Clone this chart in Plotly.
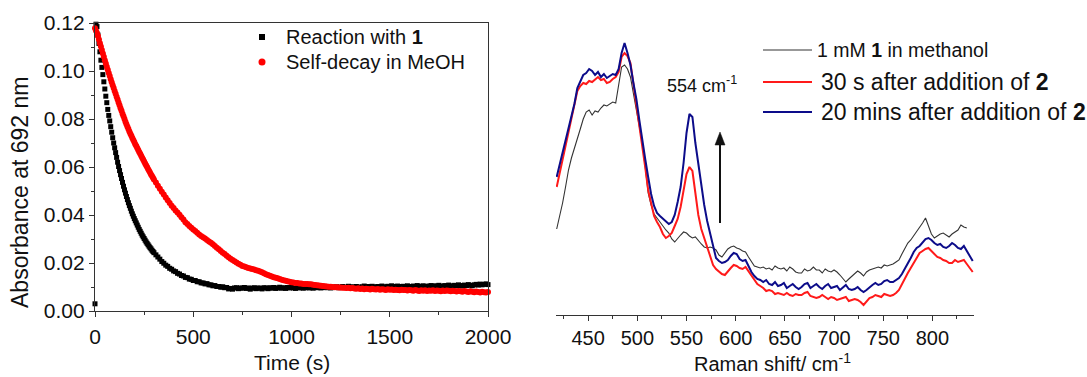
import plotly.graph_objects as go

# ---------------- Kinetic traces (absorbance at 692 nm vs time) ----------------
time_s = [
    0, 5, 10, 15, 20, 25, 30, 35, 40, 45, 50, 55, 60, 65, 70, 75, 80, 85, 90, 95,
    100, 105, 110, 115, 120, 125, 130, 135, 140, 145, 150, 155, 160, 165, 170, 175, 180, 185, 190, 195,
    200, 205, 210, 215, 220, 225, 230, 235, 240, 245, 250, 255, 260, 265, 270, 275, 280, 285, 290, 295,
    300, 310, 320, 330, 340, 350, 360, 370, 380, 390, 400, 410, 420, 430, 440, 450, 460, 470, 480, 490,
    500, 510, 520, 530, 540, 550, 560, 570, 580, 590, 600, 610, 620, 630, 640, 650, 660, 670, 680, 690,
    700, 710, 720, 730, 740, 750, 760, 770, 780, 790, 800, 810, 820, 830, 840, 850, 860, 870, 880, 890,
    900, 910, 920, 930, 940, 950, 960, 970, 980, 990, 1000, 1010, 1020, 1030, 1040, 1050, 1060, 1070, 1080, 1090,
    1100, 1110, 1120, 1130, 1140, 1150, 1160, 1170, 1180, 1190, 1200, 1210, 1220, 1230, 1240, 1250, 1260, 1270, 1280, 1290,
    1300, 1310, 1320, 1330, 1340, 1350, 1360, 1370, 1380, 1390, 1400, 1410, 1420, 1430, 1440, 1450, 1460, 1470, 1480, 1490,
    1500, 1510, 1520, 1530, 1540, 1550, 1560, 1570, 1580, 1590, 1600, 1610, 1620, 1630, 1640, 1650, 1660, 1670, 1680, 1690,
    1700, 1710, 1720, 1730, 1740, 1750, 1760, 1770, 1780, 1790, 1800, 1810, 1820, 1830, 1840, 1850, 1860, 1870, 1880, 1890,
    1900, 1910, 1920, 1930, 1940, 1950, 1960, 1970, 1980, 1990, 2000,
]

abs_reaction = [
    0.0030, 0.1195, 0.1185, 0.1150, 0.1115, 0.1080, 0.1045, 0.1015, 0.0985, 0.0955,
    0.0925, 0.0895, 0.0868, 0.0840, 0.0815, 0.0792, 0.0768, 0.0745, 0.0722, 0.0700,
    0.0680, 0.0660, 0.0640, 0.0620, 0.0602, 0.0585, 0.0568, 0.0552, 0.0536, 0.0520,
    0.0505, 0.0491, 0.0477, 0.0464, 0.0451, 0.0439, 0.0428, 0.0416, 0.0405, 0.0395,
    0.0385, 0.0376, 0.0367, 0.0358, 0.0349, 0.0340, 0.0332, 0.0324, 0.0316, 0.0309,
    0.0302, 0.0295, 0.0288, 0.0282, 0.0276, 0.0270, 0.0264, 0.0259, 0.0253, 0.0248,
    0.0243, 0.0234, 0.0225, 0.0216, 0.0206, 0.0199, 0.0191, 0.0186, 0.0178, 0.0174,
    0.0167, 0.0164, 0.0157, 0.0154, 0.0148, 0.0146, 0.0140, 0.0139, 0.0133, 0.0132,
    0.0127, 0.0127, 0.0122, 0.0122, 0.0117, 0.0117, 0.0113, 0.0114, 0.0109, 0.0109,
    0.0105, 0.0106, 0.0102, 0.0102, 0.0099, 0.0101, 0.0097, 0.0098, 0.0092, 0.0094,
    0.0091, 0.0096, 0.0097, 0.0093, 0.0096, 0.0095, 0.0098, 0.0094, 0.0096, 0.0091,
    0.0095, 0.0097, 0.0093, 0.0096, 0.0095, 0.0092, 0.0097, 0.0096, 0.0093, 0.0097,
    0.0095, 0.0098, 0.0094, 0.0096, 0.0099, 0.0095, 0.0097, 0.0094, 0.0098, 0.0096,
    0.0099, 0.0096, 0.0094, 0.0098, 0.0096, 0.0099, 0.0095, 0.0097, 0.0100, 0.0096,
    0.0098, 0.0095, 0.0099, 0.0097, 0.0100, 0.0096, 0.0098, 0.0101, 0.0097, 0.0099,
    0.0096, 0.0100, 0.0098, 0.0101, 0.0097, 0.0099, 0.0102, 0.0098, 0.0100, 0.0103,
    0.0099, 0.0101, 0.0098, 0.0102, 0.0100, 0.0097, 0.0101, 0.0104, 0.0100, 0.0102,
    0.0099, 0.0103, 0.0101, 0.0098, 0.0102, 0.0100, 0.0104, 0.0101, 0.0099, 0.0103,
    0.0101, 0.0105, 0.0102, 0.0100, 0.0104, 0.0102, 0.0099, 0.0103, 0.0101, 0.0105,
    0.0102, 0.0100, 0.0104, 0.0102, 0.0106, 0.0103, 0.0101, 0.0105, 0.0103, 0.0100,
    0.0104, 0.0106, 0.0102, 0.0105, 0.0103, 0.0107, 0.0104, 0.0102, 0.0106, 0.0104,
    0.0108, 0.0105, 0.0103, 0.0107, 0.0105, 0.0109, 0.0106, 0.0104, 0.0108, 0.0106,
    0.0110, 0.0107, 0.0105, 0.0109, 0.0111, 0.0108, 0.0112, 0.0109, 0.0111, 0.0113,
    0.0110,
]

abs_selfdecay = [
    0.1178, 0.1168, 0.1158, 0.1146, 0.1131, 0.1116, 0.1102, 0.1088, 0.1073, 0.1059,
    0.1045, 0.1031, 0.1018, 0.1005, 0.0992, 0.0979, 0.0966, 0.0953, 0.0941, 0.0929,
    0.0917, 0.0905, 0.0893, 0.0881, 0.0869, 0.0857, 0.0845, 0.0834, 0.0822, 0.0811,
    0.0800, 0.0789, 0.0778, 0.0768, 0.0758, 0.0748, 0.0739, 0.0730, 0.0721, 0.0712,
    0.0704, 0.0695, 0.0687, 0.0679, 0.0671, 0.0663, 0.0655, 0.0647, 0.0639, 0.0631,
    0.0623, 0.0615, 0.0607, 0.0600, 0.0592, 0.0584, 0.0577, 0.0569, 0.0562, 0.0555,
    0.0548, 0.0535, 0.0522, 0.0509, 0.0497, 0.0485, 0.0473, 0.0461, 0.0450, 0.0439,
    0.0429, 0.0419, 0.0410, 0.0401, 0.0391, 0.0381, 0.0370, 0.0362, 0.0354, 0.0347,
    0.0340, 0.0333, 0.0326, 0.0319, 0.0313, 0.0307, 0.0302, 0.0296, 0.0290, 0.0284,
    0.0278, 0.0271, 0.0264, 0.0257, 0.0250, 0.0243, 0.0237, 0.0230, 0.0224, 0.0218,
    0.0213, 0.0207, 0.0202, 0.0197, 0.0193, 0.0188, 0.0185, 0.0182, 0.0179, 0.0177,
    0.0175, 0.0173, 0.0170, 0.0168, 0.0165, 0.0161, 0.0157, 0.0153, 0.0150, 0.0147,
    0.0144, 0.0141, 0.0139, 0.0136, 0.0133, 0.0130, 0.0128, 0.0126, 0.0124, 0.0122,
    0.0120, 0.0119, 0.0117, 0.0117, 0.0115, 0.0115, 0.0113, 0.0113, 0.0112, 0.0111,
    0.0111, 0.0109, 0.0108, 0.0107, 0.0106, 0.0105, 0.0104, 0.0103, 0.0102, 0.0101,
    0.0101, 0.0100, 0.0099, 0.0099, 0.0098, 0.0098, 0.0097, 0.0097, 0.0096, 0.0097,
    0.0095, 0.0096, 0.0094, 0.0093, 0.0095, 0.0092, 0.0094, 0.0091, 0.0093, 0.0092,
    0.0090, 0.0093, 0.0091, 0.0090, 0.0092, 0.0089, 0.0091, 0.0090, 0.0088, 0.0091,
    0.0089, 0.0090, 0.0087, 0.0089, 0.0088, 0.0086, 0.0089, 0.0087, 0.0088, 0.0085,
    0.0087, 0.0086, 0.0084, 0.0087, 0.0085, 0.0083, 0.0086, 0.0084, 0.0086, 0.0083,
    0.0085, 0.0084, 0.0086, 0.0083, 0.0085, 0.0084, 0.0082, 0.0085, 0.0083, 0.0085,
    0.0084, 0.0082, 0.0084, 0.0083, 0.0081, 0.0083, 0.0082, 0.0080, 0.0083, 0.0081,
    0.0079, 0.0082, 0.0080, 0.0078, 0.0081, 0.0079, 0.0077, 0.0080, 0.0078, 0.0077,
    0.0079,
]

time_ticks = [0, 500, 1000, 1500, 2000]
abs_ticks = [0.00, 0.02, 0.04, 0.06, 0.08, 0.10, 0.12]

# ---------------- Raman spectra (intensity, arbitrary units) ----------------
raman_shift = [
    418, 421, 424, 427, 430, 433, 436, 439, 442, 445, 448, 451, 454, 457, 460, 463, 466, 469, 472, 475,
    478, 481, 484, 487, 490, 493, 496, 499, 502, 505, 508, 511, 514, 517, 520, 523, 526, 529, 532, 535,
    538, 541, 544, 547, 550, 553, 556, 559, 562, 565, 568, 571, 574, 577, 580, 583, 586, 589, 592, 595,
    598, 601, 604, 607, 610, 613, 616, 619, 622, 625, 628, 631, 634, 637, 640, 643, 646, 649, 652, 655,
    658, 661, 664, 667, 670, 673, 676, 679, 682, 685, 688, 691, 694, 697, 700, 703, 706, 709, 712, 715,
    718, 721, 724, 727, 730, 733, 736, 739, 742, 745, 748, 751, 754, 757, 760, 763, 766, 769, 772, 775,
    778, 781, 784, 787, 790, 793, 796, 799, 802, 805, 808, 811, 814, 817, 820, 823, 826, 829, 832, 835,
    838, 841,
]

# 1 mM 1 in methanol (ends at 835 cm-1)
raman_complex = [
    86, 98, 112, 128, 145, 157, 166, 175, 186, 196, 203, 205, 200, 204, 203, 207, 210, 209, 211, 213,
    212, 228, 248, 250, 246, 238, 222, 206, 190, 172, 148, 122, 110, 101, 97, 93, 88, 85, 82, 76,
    73, 77, 80, 83, 82, 79, 77, 78, 74, 71, 68, 67, 68, 67, 65, 60, 58, 62, 66, 68,
    69, 67, 66, 64, 63, 58, 53, 49, 48, 47, 48, 46, 47, 45, 49, 47, 46, 47, 44, 48,
    46, 43, 42, 42, 46, 44, 45, 48, 45, 45, 42, 46, 44, 43, 45, 43, 40, 37, 33, 36,
    39, 41, 44, 42, 39, 43, 45, 46, 47, 48, 47, 50, 49, 50, 51, 53, 55, 61, 66, 72,
    75, 79, 83, 87, 92, 97, 89, 81, 77, 79, 81, 82, 80, 78, 81, 83, 85, 90, 88, 87,
]

# 30 s after addition of 2
raman_30s = [
    128, 142, 156, 170, 182, 195, 210, 224, 229, 232, 231, 234, 233, 236, 238, 235, 236, 232, 233, 236,
    238, 243, 258, 262, 259, 252, 232, 210, 190, 170, 148, 125, 112, 99, 93, 88, 81, 77, 79, 82,
    89, 96, 108, 126, 141, 148, 144, 122, 100, 86, 77, 68, 58, 50, 46, 43, 41, 40, 44, 47,
    50, 49, 47, 46, 48, 44, 39, 35, 31, 29, 27, 24, 25, 24, 21, 22, 21, 20, 22, 20,
    19, 21, 20, 20, 22, 23, 19, 18, 17, 18, 20, 18, 16, 18, 17, 15, 16, 17, 18, 14,
    15, 16, 15, 13, 10, 14, 17, 18, 20, 19, 18, 21, 20, 19, 20, 22, 25, 31, 37, 42,
    47, 52, 58, 62, 64, 66, 67, 64, 61, 58, 57, 55, 54, 52, 52, 55, 53, 54, 55, 51,
    47, 43,
]

# 20 mins after addition of 2
raman_20min = [
    138, 150, 163, 175, 188, 198, 211, 227, 234, 240, 242, 246, 244, 240, 243, 238, 241, 237, 239, 241,
    240, 246, 262, 272, 262, 250, 232, 216, 195, 174, 156, 138, 121, 109, 102, 99, 96, 94, 91, 93,
    100, 113, 128, 152, 182, 201, 198, 172, 150, 128, 110, 94, 81, 68, 57, 54, 52, 53, 55, 59,
    62, 61, 56, 54, 55, 49, 43, 39, 36, 35, 33, 35, 31, 30, 33, 29, 30, 32, 27, 29,
    31, 28, 26, 28, 31, 32, 27, 29, 31, 28, 26, 29, 31, 27, 28, 29, 25, 28, 30, 26,
    25, 26, 28, 25, 23, 25, 28, 30, 32, 30, 31, 34, 35, 33, 33, 35, 37, 41, 46, 52,
    57, 63, 67, 69, 72, 76, 77, 75, 72, 70, 71, 68, 67, 69, 72, 70, 67, 66, 69, 64,
    59, 54,
]

raman_ticks = [450, 500, 550, 600, 650, 700, 750, 800]

# ---------------- Figure ----------------
W, H = 1087, 377
FONT = "Liberation Sans, Arial, sans-serif"
AXIS = "#333333"
TEXT = "#111111"


def px_x(p):
    return p / W


def px_y(p):
    return 1 - p / H


fig = go.Figure()

fig.add_trace(go.Scatter(
    x=time_s, y=abs_reaction, mode="markers", name="Reaction with 1",
    marker=dict(symbol="square", size=5, color="black", line=dict(width=0)),
    xaxis="x", yaxis="y", cliponaxis=False,
))
fig.add_trace(go.Scatter(
    x=time_s, y=abs_selfdecay, mode="markers", name="Self-decay in MeOH",
    marker=dict(symbol="circle", size=6, color="#ff0000", line=dict(width=0)),
    xaxis="x", yaxis="y", cliponaxis=False,
))

fig.add_trace(go.Scatter(
    x=raman_shift[:len(raman_complex)], y=raman_complex, mode="lines",
    line=dict(color="#333333", width=1.1), xaxis="x2", yaxis="y2",
))
fig.add_trace(go.Scatter(
    x=raman_shift, y=raman_30s, mode="lines",
    line=dict(color="#ff1a1a", width=2), xaxis="x2", yaxis="y2",
))
fig.add_trace(go.Scatter(
    x=raman_shift, y=raman_20min, mode="lines",
    line=dict(color="#0c0c8a", width=2), xaxis="x2", yaxis="y2",
))

common_axis = dict(
    showline=True, linecolor=AXIS, linewidth=1.3, showgrid=False, zeroline=False,
    ticks="outside", ticklen=5, tickwidth=1.3, tickcolor=AXIS, automargin=False,
    tickfont=dict(family=FONT, size=21, color=TEXT),
)

fig.update_layout(
    template="none",
    width=W, height=H,
    margin=dict(l=0, r=0, t=0, b=0, autoexpand=False),
    paper_bgcolor="white", plot_bgcolor="white",
    font=dict(family=FONT, color=TEXT),
    showlegend=False,
    xaxis=dict(
        common_axis, domain=[px_x(95), px_x(488)], range=[0, 2000], anchor="y",
        tickvals=time_ticks, mirror=True, ticklabelstandoff=2,
        minor=dict(ticks="outside", ticklen=3, tickcolor=AXIS, dtick=250, tick0=0),
    ),
    yaxis=dict(
        common_axis, domain=[px_y(311), px_y(23)], range=[0, 0.12], anchor="x",
        tickvals=abs_ticks, tickformat=".2f", mirror=True,
        minor=dict(ticks="outside", ticklen=3, tickcolor=AXIS, dtick=0.01, tick0=0),
    ),
    xaxis2=dict(
        common_axis, domain=[px_x(556), px_x(974)], range=[417.3, 842.3], anchor="y2",
        tickvals=raman_ticks, tickfont=dict(family=FONT, size=20, color=TEXT),
        minor=dict(ticks="outside", ticklen=3, tickcolor=AXIS, dtick=25, tick0=0),
    ),
    yaxis2=dict(domain=[px_y(315), px_y(23)], range=[0, 292], anchor="x2", visible=False),
)

# Axis titles
fig.add_annotation(xref="paper", yref="paper", x=px_x(292), y=px_y(362),
                   text="Time (s)", showarrow=False, xanchor="center", yanchor="middle",
                   font=dict(family=FONT, size=21, color=TEXT))
fig.add_annotation(xref="paper", yref="paper", x=px_x(20), y=px_y(193),
                   text="Absorbance at 692 nm", showarrow=False, textangle=-90,
                   xanchor="center", yanchor="middle",
                   font=dict(family=FONT, size=23, color=TEXT))
fig.add_annotation(xref="paper", yref="paper", x=px_x(772), y=px_y(362),
                   text="Raman shift/ cm<sup>-1</sup>", showarrow=False,
                   xanchor="center", yanchor="middle",
                   font=dict(family=FONT, size=20, color=TEXT))

# Legend for the kinetic traces: marker symbols with labels
fig.add_shape(type="rect", xref="paper", yref="paper",
              x0=px_x(259), x1=px_x(265), y0=px_y(40), y1=px_y(34),
              fillcolor="black", line=dict(width=0))
fig.add_shape(type="circle", xref="paper", yref="paper",
              x0=px_x(258.5), x1=px_x(265.5), y0=px_y(65.5), y1=px_y(58.5),
              fillcolor="#ff0000", line=dict(width=0))
fig.add_annotation(xref="paper", yref="paper", x=px_x(284), y=px_y(37),
                   text="Reaction with <b>1</b>", showarrow=False, xanchor="left", yanchor="middle",
                   font=dict(family=FONT, size=20, color=TEXT))
fig.add_annotation(xref="paper", yref="paper", x=px_x(284), y=px_y(62),
                   text="Self-decay in MeOH", showarrow=False, xanchor="left", yanchor="middle",
                   font=dict(family=FONT, size=20, color=TEXT))

# Legend for the spectra: line samples with labels
spec_legend = [
    ("1 mM <b>1</b> in methanol", "#333333", 1.1, 50, 815, 19.5),
    ("30 s after addition of <b>2</b>", "#ff1a1a", 2, 82, 819, 23),
    ("20 mins after addition of <b>2</b>", "#0c0c8a", 2, 112, 819, 23),
]
for label, color, width, ypix, xtext, fsize in spec_legend:
    fig.add_shape(type="line", xref="paper", yref="paper",
                  x0=px_x(763), x1=px_x(812), y0=px_y(ypix), y1=px_y(ypix),
                  line=dict(color=color, width=width))
    fig.add_annotation(xref="paper", yref="paper", x=px_x(xtext), y=px_y(ypix),
                       text=label, showarrow=False, xanchor="left", yanchor="middle",
                       font=dict(family=FONT, size=fsize, color=TEXT))

# Band label and growth arrow (shaft + filled head, in pixel-derived paper units)
fig.add_annotation(xref="paper", yref="paper", x=px_x(702), y=px_y(85),
                   text="554 cm<sup>-1</sup>", showarrow=False, xanchor="center", yanchor="middle",
                   font=dict(family=FONT, size=18, color=TEXT))
ax_px, tail_px, head_px = 720, 223, 132
fig.add_shape(type="line", xref="paper", yref="paper",
              x0=px_x(ax_px), x1=px_x(ax_px), y0=px_y(tail_px), y1=px_y(head_px + 10),
              line=dict(color=TEXT, width=2))
fig.add_shape(
    type="path", xref="paper", yref="paper",
    path=(f"M {px_x(ax_px)} {px_y(head_px)} "
          f"L {px_x(ax_px - 5)} {px_y(head_px + 13)} "
          f"L {px_x(ax_px + 5)} {px_y(head_px + 13)} Z"),
    fillcolor=TEXT, line=dict(color=TEXT, width=0.5),
)

fig.write_html("out.html")
